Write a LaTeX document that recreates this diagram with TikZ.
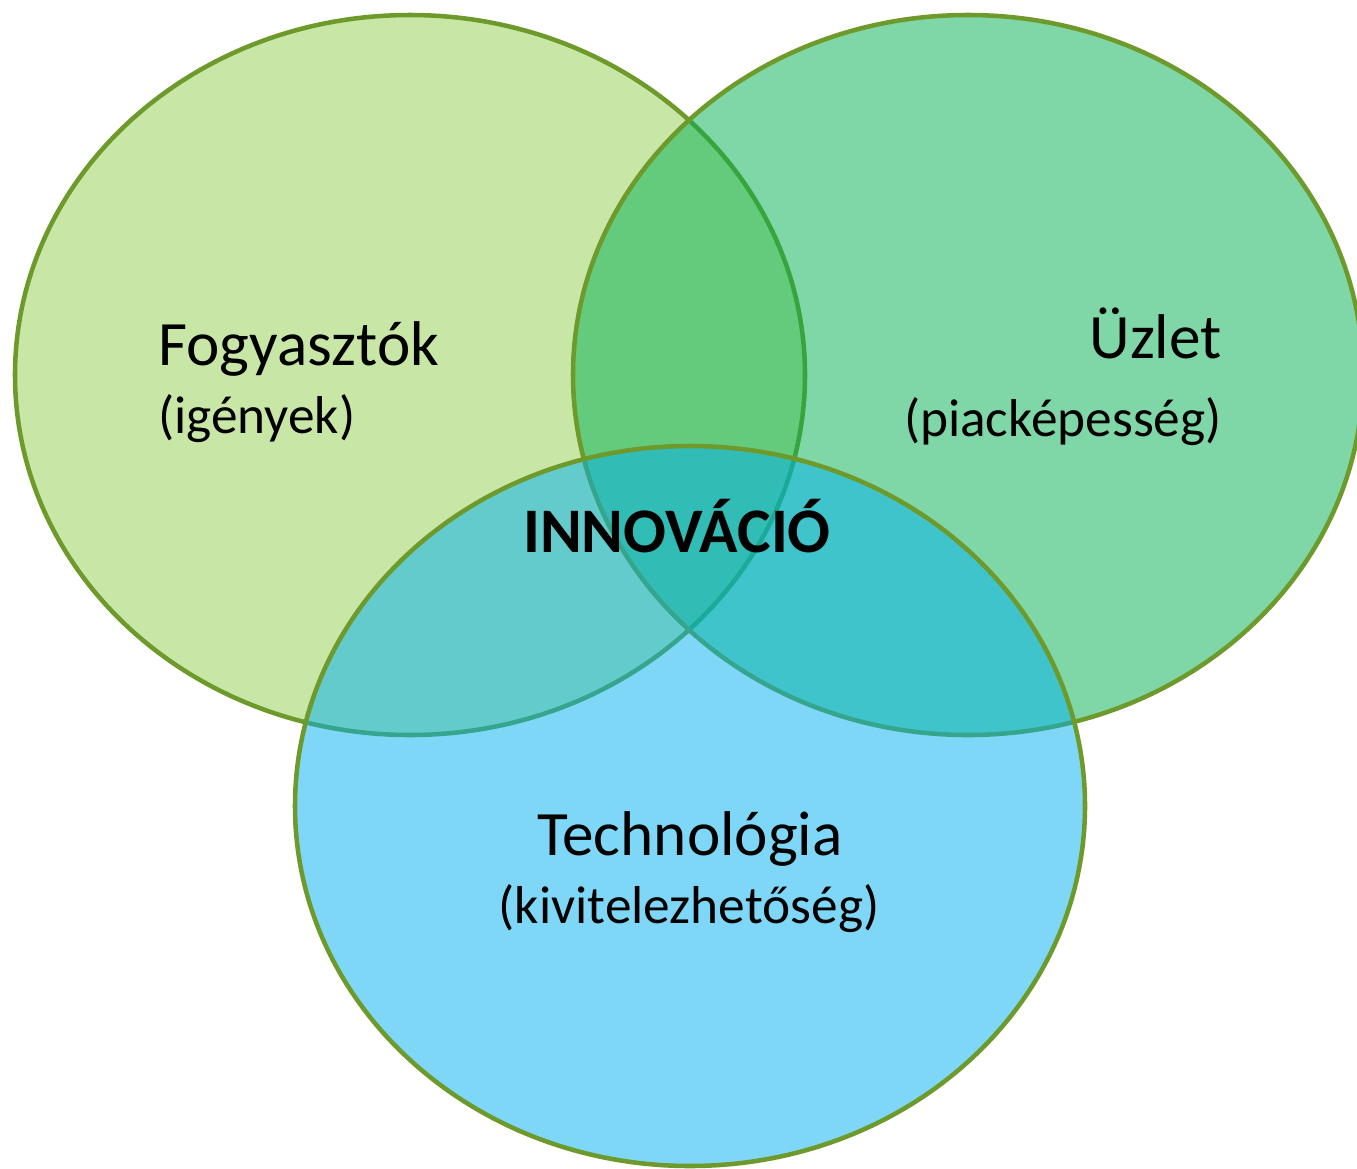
\documentclass[tikz,border=0pt]{standalone}
\usepackage{fontspec}
\setmainfont{Carlito}
\usetikzlibrary{shapes.geometric}
\definecolor{cfog}{HTML}{92D050}
\definecolor{cuzl}{HTML}{00B050}
\definecolor{ctec}{HTML}{00B0F0}
\definecolor{cline}{HTML}{6E9A2C}
\tikzset{
  venn/.style={ellipse, draw=cline, line width=3.4pt, fill opacity=0.5, draw opacity=1,
    minimum width=592.5pt, minimum height=540pt, inner sep=0pt, outer sep=0pt},
  big/.style={font=\fontsize{47.4}{52}\selectfont, inner sep=0pt},
  small/.style={font=\fontsize{40}{46}\selectfont, inner sep=0pt},
}
\begin{document}
\begin{tikzpicture}[x=0.75pt, y=-0.75pt]
\useasboundingbox (0,0) rectangle (1357,1168);
\node[venn, fill=cfog] (fog) at (410,375) {};
\node[venn, fill=cuzl] (uzl) at (968,375) {};
\node[venn, fill=ctec] (tec) at (690,806) {};
\node[big, anchor=base west] (t1) at (158,365) {Fogyasztók};
\node[small, anchor=base west] (t1b) at (158,433) {(igények)};
\node[big, anchor=base east] (t2) at (1222,358) {Üzlet};
\node[small, anchor=base east] (t2b) at (1222,436) {(piacképesség)};
\node[big, anchor=base] (t3) at (690,855) {Technológia};
\node[small, anchor=base] (t3b) at (689,923) {(kivitelezhetőség)};
\node[big, anchor=base, font=\fontsize{47.6}{52}\selectfont\bfseries] (inn) at (677,552) {INNOVÁCIÓ};
\end{tikzpicture}
\end{document}
